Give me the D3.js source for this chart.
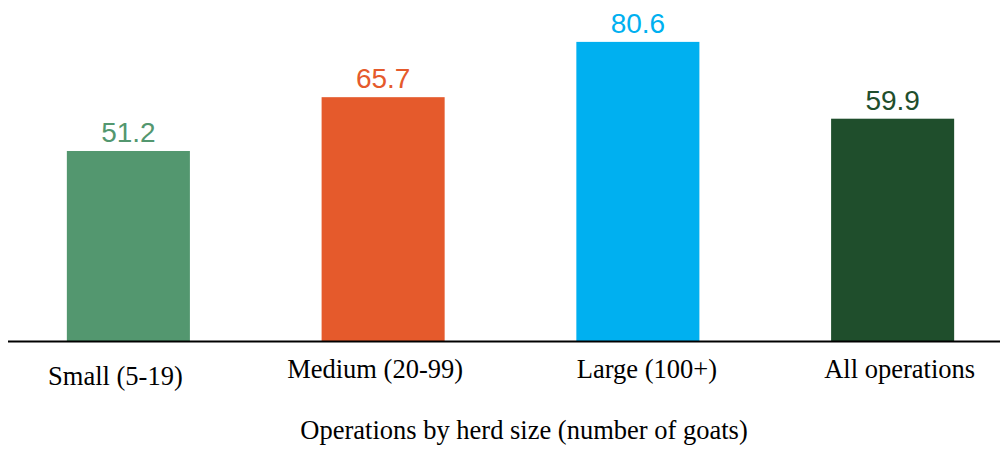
<!DOCTYPE html>
<html>
<head>
<meta charset="utf-8">
<script src="https://cdn.jsdelivr.net/npm/d3@7"></script>
<style>
  html, body { margin: 0; padding: 0; background: #fff; }
  svg { display: block; }
</style>
</head>
<body>
<svg id="chart" width="1000" height="449"></svg>
<script>
const categories = ["Small (5-19)", "Medium (20-99)", "Large (100+)", "All operations"];
const values = [51.2, 65.7, 80.6, 59.9];
const colors = ["#53976F", "#E55A2C", "#00B0F0", "#1F4E2C"];
const axisTitle = "Operations by herd size (number of goats)";

// layout tweaks for category label placement (to mimic reference)
const labelDx = [-13, -8, 9, 7];
const labelDy = [7, 0, 0, 0];

const svg = d3.select("#chart");
const baseY = 341;

const x = d3.scaleBand()
  .domain(categories)
  .range([1, 1020])
  .paddingInner(0.517)
  .paddingOuter(0.2585);

const y = d3.scaleLinear()
  .domain([0, 90])
  .range([baseY, 7]);

const data = categories.map((c, i) => ({ c, v: values[i], col: colors[i], i }));

svg.selectAll("rect.bar")
  .data(data)
  .enter().append("rect")
  .attr("class", "bar")
  .attr("x", d => x(d.c))
  .attr("width", x.bandwidth())
  .attr("y", d => y(d.v))
  .attr("height", d => y(0) - y(d.v))
  .attr("fill", d => d.col);

svg.selectAll("text.val")
  .data(data)
  .enter().append("text")
  .attr("class", "val")
  .attr("x", d => x(d.c) + x.bandwidth() / 2)
  .attr("y", d => y(d.v) - 9)
  .attr("text-anchor", "middle")
  .attr("font-family", "'Liberation Sans', Arial, sans-serif")
  .attr("font-size", "28px")
  .attr("fill", d => d.col)
  .text(d => d.v.toFixed(1));

// x axis line
const xAxis = d3.axisBottom(x).tickSize(0).tickFormat("");
const axisG = svg.append("g")
  .attr("transform", `translate(0,${baseY})`)
  .call(xAxis);
axisG.select(".domain").remove();
axisG.append("line")
  .attr("x1", 8).attr("x2", 1000)
  .attr("y1", 0.5).attr("y2", 0.5)
  .attr("stroke", "#000")
  .attr("stroke-width", 2);

svg.selectAll("text.cat")
  .data(data)
  .enter().append("text")
  .attr("class", "cat")
  .attr("x", d => x(d.c) + x.bandwidth() / 2 + labelDx[d.i])
  .attr("y", d => 378 + labelDy[d.i])
  .attr("text-anchor", "middle")
  .attr("font-family", "'Liberation Serif', 'Times New Roman', serif")
  .attr("font-size", "26.5px")
  .attr("fill", "#000")
  .text(d => d.c);

svg.append("text")
  .attr("x", 524)
  .attr("y", 439)
  .attr("text-anchor", "middle")
  .attr("font-family", "'Liberation Serif', 'Times New Roman', serif")
  .attr("font-size", "26.5px")
  .attr("fill", "#000")
  .text(axisTitle);
</script>
</body>
</html>
